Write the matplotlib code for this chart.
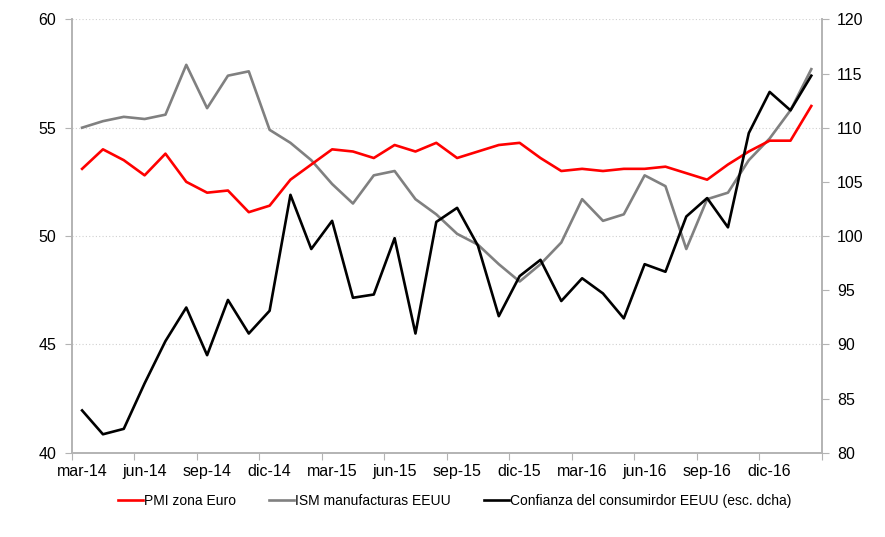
import matplotlib
matplotlib.use("Agg")
import matplotlib.pyplot as plt
from matplotlib.ticker import FixedLocator, NullFormatter

plt.rcParams['font.family'] = ['Liberation Sans', 'DejaVu Sans']

months = ["mar-14", "abr-14", "may-14", "jun-14", "jul-14", "ago-14", "sep-14", "oct-14", "nov-14",
          "dic-14", "ene-15", "feb-15", "mar-15", "abr-15", "may-15", "jun-15", "jul-15", "ago-15",
          "sep-15", "oct-15", "nov-15", "dic-15", "ene-16", "feb-16", "mar-16", "abr-16", "may-16",
          "jun-16", "jul-16", "ago-16", "sep-16", "oct-16", "nov-16", "dic-16", "ene-17", "feb-17"]

pmi_euro = [53.1, 54.0, 53.5, 52.8, 53.8, 52.5, 52.0, 52.1, 51.1, 51.4, 52.6, 53.3,
            54.0, 53.9, 53.6, 54.2, 53.9, 54.3, 53.6, 53.9, 54.2, 54.3, 53.6, 53.0,
            53.1, 53.0, 53.1, 53.1, 53.2, 52.9, 52.6, 53.3, 53.9, 54.4, 54.4, 56.0]

ism_usa = [55.0, 55.3, 55.5, 55.4, 55.6, 57.9, 55.9, 57.4, 57.6, 54.9, 54.3, 53.5,
           52.4, 51.5, 52.8, 53.0, 51.7, 51.0, 50.1, 49.6, 48.7, 47.9, 48.7, 49.7,
           51.7, 50.7, 51.0, 52.8, 52.3, 49.4, 51.7, 52.0, 53.5, 54.5, 55.8, 57.7]

conf_usa = [83.9, 81.7, 82.2, 86.4, 90.3, 93.4, 89.0, 94.1, 91.0, 93.1, 103.8, 98.8,
            101.4, 94.3, 94.6, 99.8, 91.0, 101.3, 102.6, 99.1, 92.6, 96.3, 97.8, 94.0,
            96.1, 94.7, 92.4, 97.4, 96.7, 101.8, 103.5, 100.8, 109.5, 113.3, 111.6, 114.8]

x = list(range(len(months)))
spine_col = "#b3b3b3"

fig = plt.figure(figsize=(8.85, 5.37), dpi=100)
ax = fig.add_axes([0.081, 0.157, 0.8475, 0.807])
ax2 = ax.twinx()

l1, = ax.plot(x, pmi_euro, color="#ff0000", lw=1.9, label="PMI zona Euro", zorder=3)
l2, = ax.plot(x, ism_usa, color="#808080", lw=1.9, label="ISM manufacturas EEUU", zorder=2)
l3, = ax2.plot(x, conf_usa, color="#000000", lw=1.9,
               label="Confianza del consumirdor EEUU (esc. dcha)")

ax.set_ylim(40, 60)
ax2.set_ylim(80, 120)
ax.set_xlim(-0.5, len(months) - 0.5)
ax.set_yticks([40, 45, 50, 55, 60])
ax2.set_yticks([80, 85, 90, 95, 100, 105, 110, 115, 120])

# x ticks: marks at category boundaries every 3, labels at category centres
bounds = [i - 0.5 for i in range(0, len(months) + 1, 3)]
ax.xaxis.set_major_locator(FixedLocator(bounds))
ax.xaxis.set_major_formatter(NullFormatter())
lab_pos = list(range(0, len(months) - 2, 3))
ax.xaxis.set_minor_locator(FixedLocator(lab_pos))
ax.set_xticklabels([months[i] for i in lab_pos], minor=True)
ax.tick_params(axis='x', which='minor', length=0, pad=8, labelsize=11.5)
ax.tick_params(axis='x', which='major', length=5, color=spine_col, direction='out')

ax.tick_params(axis='y', length=5, color=spine_col, labelsize=11.5, pad=6)
ax2.tick_params(axis='y', length=5, color=spine_col, labelsize=11.5, pad=6)

ax.yaxis.grid(True, linestyle=(0, (1, 2)), color="#d0d0d0", lw=0.8)
ax.set_axisbelow(True)

for a in (ax, ax2):
    a.spines['top'].set_visible(False)
    for s in ('left', 'right', 'bottom'):
        a.spines[s].set_color(spine_col)
        a.spines[s].set_linewidth(1.2)

leg = fig.legend(handles=[l1, l2, l3], loc='center', bbox_to_anchor=(0.514, 0.067),
                 ncol=3, frameon=False, fontsize=10, handlelength=1.8, handletextpad=0.05,
                 columnspacing=2.4)

fig.savefig("out.png", dpi=100)
